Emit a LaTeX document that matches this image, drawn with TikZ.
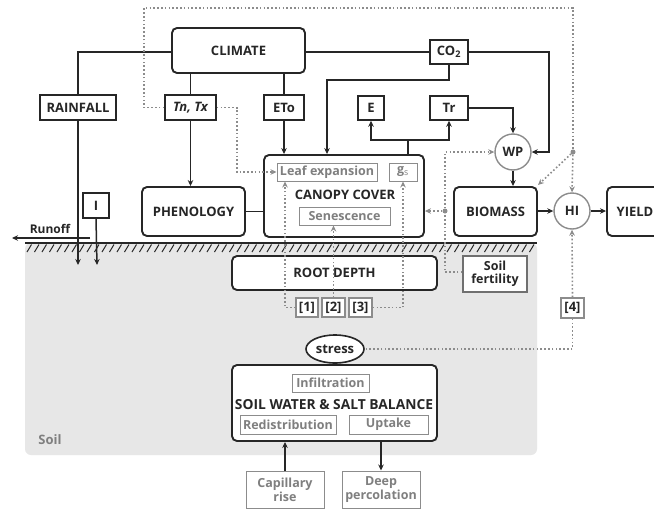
\documentclass[tikz,border=0pt]{standalone}
\usepackage{fontspec}
\setmainfont{Open Sans}
\usetikzlibrary{arrows.meta,shapes.geometric,calc}
\definecolor{dk}{HTML}{262626}
\definecolor{gr}{HTML}{8C8C8C}
\definecolor{gtext}{HTML}{7F7F7F}
\definecolor{soilbg}{HTML}{E7E7E7}
\pgfdeclarelayer{bg}
\pgfsetlayers{bg,main}
\begin{document}
\begin{tikzpicture}[x=1pt,y=-1pt,
  every node/.style={font=\fontsize{13}{14}\selectfont\bfseries, text=dk, inner sep=0pt},
  mainbox/.style={draw=dk, line width=1.9pt, rounded corners=5pt, fill=white},
  sbox/.style={draw=dk, line width=1.5pt, fill=white},
  ibox/.style={draw=gr, line width=1pt, fill=white, text=gtext, font=\fontsize{12.5}{14}\selectfont\bfseries},
  nbox/.style={draw=gr, line width=1.4pt, fill=white, text=dk},
  rbox/.style={draw=gr, line width=1.4pt, circle, fill=white, minimum size=36pt},
  arr/.style={draw=dk, line width=1.5pt, -{Stealth[length=6pt,width=5.5pt]}},
  ln/.style={draw=dk, line width=1.5pt},
  dl/.style={draw=gr, line width=1.6pt, dash pattern=on 1.6pt off 2.2pt},
  darr/.style={dl, -{Stealth[length=6pt,width=5.5pt,fill=gr]}},
  jdot/.style={circle, fill=gr, minimum size=5pt, inner sep=0pt}
]
\clip (0,0) rectangle (654,509);
\fill[white] (0,0) rectangle (654,509);
% soil
\fill[soilbg, rounded corners=6pt] (25,243) rectangle (537,455);
\coordinate (g1) at (25,243);
\coordinate (g2) at (537,243);
\draw[dk, line width=2pt] (g1) -- (g2);
\foreach \x in {27,34.5,...,532} \draw[dk, line width=1pt] (\x,252) -- (\x+4.5,244.5);
\node[text=gtext] (soillbl) at (50,440) {Soil};

% nodes
\node[mainbox, minimum width=133pt, minimum height=45pt] (climate) at (238.5,50.5) {CLIMATE};
\node[sbox, minimum width=76pt, minimum height=25pt] (rain) at (78,107.5) {RAINFALL};
\node[sbox, minimum width=51pt, minimum height=25pt] (tntx) at (190.5,107.5) {\itshape Tn, Tx};
\node[sbox, minimum width=40pt, minimum height=25pt] (eto) at (284,107.5) {ETo};
\node[sbox, minimum width=38pt, minimum height=24pt] (co2) at (449,52) {CO$_\mathbf{2}$};
\node[sbox, minimum width=26pt, minimum height=24pt] (e) at (371,108) {E};
\node[sbox, minimum width=38pt, minimum height=24pt] (tr) at (449,108) {Tr};
\node[rbox] (wp) at (513,152) {WP};
\node[mainbox, minimum width=103pt, minimum height=49pt] (phen) at (193.5,211.5) {PHENOLOGY};
\node[mainbox, minimum width=160pt, minimum height=82pt] (canopy) at (344,196) {};
\node (cctext) at (345,195) {CANOPY COVER};
\node[ibox, minimum width=100pt, minimum height=18pt] (leaf) at (327,172) {Leaf expansion};
\node[ibox, minimum width=28pt, minimum height=18pt] (gs) at (403,172) {g$_\mathrm{s}$};
\node[ibox, minimum width=91pt, minimum height=18pt] (sen) at (344.5,216) {Senescence};
\node[mainbox, minimum width=83pt, minimum height=49pt] (bio) at (495.5,211.5) {BIOMASS};
\node[rbox] (hi) at (572,211) {HI};
\node[mainbox, minimum width=56pt, minimum height=49pt] (yield) at (635,211.5) {YIELD};
\node[sbox, minimum width=26pt, minimum height=25pt] (irr) at (96,205.5) {I};
\node (runoff) at (50,229) {\fontsize{12}{13}\selectfont Runoff};
\coordinate (ro1) at (90,238);
\coordinate (ro2) at (12,238);
\node[mainbox, minimum width=205pt, minimum height=34pt] (root) at (334.5,273) {ROOT DEPTH};
\node[sbox, draw=gr!80!black, minimum width=64pt, minimum height=36pt, align=center, font=\fontsize{12.5}{13}\selectfont\bfseries] (fert) at (495,274) {Soil\\fertility};
\node[nbox, minimum width=22pt, minimum height=19pt] (s1) at (307,307.5) {[1]};
\node[nbox, minimum width=23pt, minimum height=19pt] (s2) at (333.5,307.5) {[2]};
\node[nbox, minimum width=23pt, minimum height=19pt] (s3) at (360.5,307.5) {[3]};
\node[nbox, minimum width=23pt, minimum height=20pt] (s4) at (572.5,308) {[4]};
\node[ellipse, draw=dk, line width=1.6pt, fill=white, minimum width=58pt, minimum height=28pt] (stress) at (335,349) {stress};
\node[mainbox, minimum width=205pt, minimum height=76pt] (swb) at (334.5,403) {};
\node[font=\fontsize{13.8}{15}\selectfont\bfseries] (swbtext) at (334,405) {SOIL WATER \& SALT BALANCE};
\node[ibox, minimum width=77pt, minimum height=18pt] (inf) at (330.5,383) {Infiltration};
\node[ibox, minimum width=96pt, minimum height=19pt] (redis) at (288,424.5) {Redistribution};
\node[ibox, minimum width=79pt, minimum height=19pt] (upt) at (388.5,424.5) {Uptake};
\node[ibox, minimum width=78pt, minimum height=37pt, align=center] (cap) at (285,489.5) {Capillary\\rise};
\node[ibox, minimum width=78pt, minimum height=37pt, align=center] (deep) at (381,489.5) {Deep\\percolation};

% junctions
\node[jdot] (j1) at (573,152) {};
\node[jdot] (j2) at (445,211) {};
\coordinate (rainend) at (78,265);
\coordinate (irrend) at (97,265);

% solid connectors
\draw[ln] (climate.west |- 0,52) -| (rain.north);
\draw[arr] (rain.south) -- (rainend);
\draw[arr] (irr.south) -- (irrend);
\draw[arr] (ro1) -- (ro2);
\draw[ln] (climate.east |- 0,52) -- (co2.west);
\draw[arr] (co2.east) -| (549,152) -- (wp.east);
\draw[arr] (co2.south) |- (327,80) -- (327,0 |- canopy.north);
\draw[ln] (tntx.north |- climate.south) -- (tntx.north);
\draw[arr] (tntx.south) -- (tntx.south |- phen.north);
\draw[ln] (eto.north |- climate.south) -- (eto.north);
\draw[arr] (eto.south) -- (eto.south |- canopy.north);
\draw[ln] (phen.east) -- (phen.east -| canopy.west);
\draw[ln] (408,0 |- canopy.north) -- (408,140);
\draw[arr] (408,140) -| (e.south);
\draw[arr] (408,140) -| (tr.south);
\draw[arr] (tr.east) -| (wp.north);
\draw[arr] (wp.south) -- (wp.south |- bio.north);
\draw[arr] (bio.east |- hi.west) -- (hi.west);
\draw[arr] (hi.east) -- (hi.east -| yield.west);
\draw[arr] (cap.north) -- (cap.north |- swb.south);
\draw[arr] (381,0 |- swb.south) -- (381,0 |- deep.north);

% dotted connectors
\draw[dl] (tntx.west) -- (144,107.5) -- (144,8) -- (573,8) -- (j1);
\draw[darr] (j1) -- (hi.north);
\draw[darr] (j1) -- (538,185);
\draw[darr] (tntx.east) -- (237,107.5) -- (237,172) -- (leaf.west);
\draw[dl] (fert.west |- 0,272) -- (445,272) -- (j2);
\draw[darr] (j2) -- (445,152) -- (wp.west);
\draw[darr] (j2) -- (canopy.east |- j2);
\draw[darr] (s1.west) -- (285,307.5) -- (285,0 |- leaf.south);
\draw[darr] (s2.north) -- (s2.north |- sen.south);
\draw[darr] (s3.east) -- (403,307.5) -- (403,0 |- gs.south);
\draw[darr] (s4.north) -- (hi.south);
\draw[dl] (s4.south) -- (s4.south |- stress.east) -- (stress.east);
\begin{pgfonlayer}{bg}
\draw[dl] (s1.south) -- (s1.south |- stress.center);
\draw[dl] (s2.south) -- (s2.south |- stress.center);
\draw[dl] (s3.south) -- (s3.south |- stress.center);
\end{pgfonlayer}
\end{tikzpicture}
\end{document}
